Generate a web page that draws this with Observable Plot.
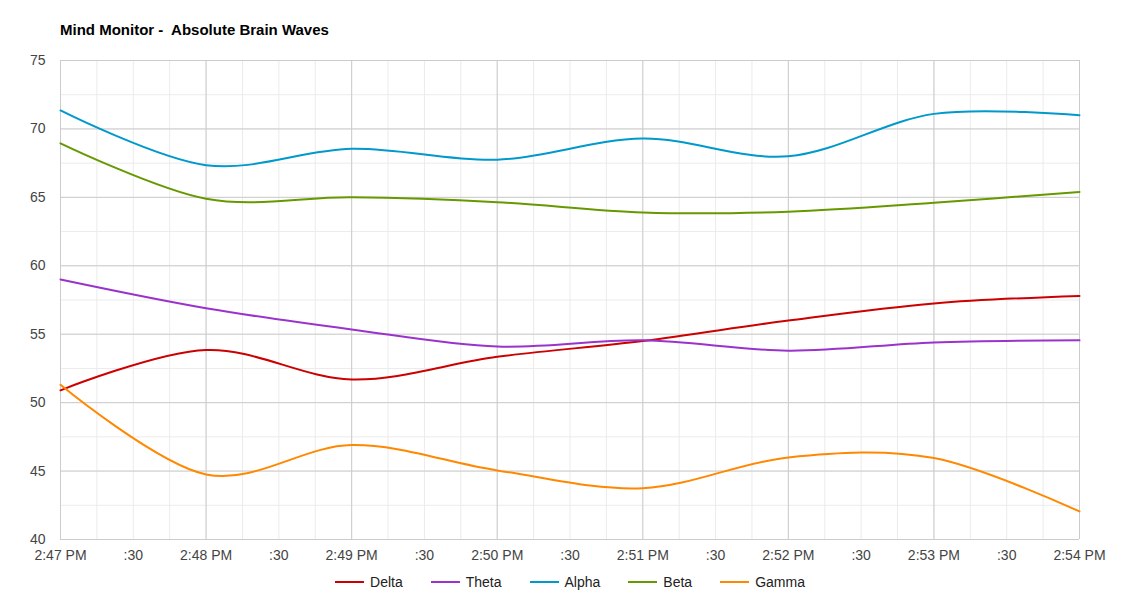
<!DOCTYPE html>
<html>
<head>
<meta charset="utf-8">
<script src="https://cdn.jsdelivr.net/npm/d3@7"></script>
<script src="https://cdn.jsdelivr.net/npm/@observablehq/plot@0.6"></script>
<style>
  html, body { margin: 0; padding: 0; background: #fff; }
  body { width: 1140px; height: 600px; overflow: hidden; font-family: "Liberation Sans", Arial, sans-serif; }
  #title { height: 45px; box-sizing: border-box; padding: 21px 0 0 60px; font-size: 15px; line-height: 18px; font-weight: bold; color: #000; white-space: pre; }
  #legend { display: flex; justify-content: center; align-items: center; height: 26px; margin-left: 0; font-size: 14px; color: #222; }
  .item { display: flex; align-items: center; margin: 0 14px; }
  .sw { width: 29px; height: 2px; margin-right: 6px; }
</style>
</head>
<body>
<div id="title">Mind Monitor -  Absolute Brain Waves</div>
<div id="chart"></div>
<div id="legend"></div>
<script>
const times = ["2:47 PM","2:48 PM","2:49 PM","2:50 PM","2:51 PM","2:52 PM","2:53 PM","2:54 PM"];
const seriesNames = ["Delta","Theta","Alpha","Beta","Gamma"];
const colors = ["#cc0000","#9933cc","#0099cc","#669900","#ff8800"];
const delta = [50.9, 53.85, 51.7, 53.35, 54.5, 56.0, 57.25, 57.8];
const theta = [59.0, 56.9, 55.35, 54.1, 54.55, 53.8, 54.4, 54.55];
const alpha = [71.35, 67.35, 68.55, 67.75, 69.3, 68.0, 71.1, 71.0];
const beta  = [68.95, 64.9, 65.0, 64.65, 63.9, 63.95, 64.6, 65.4];
const gamma = [51.3, 44.75, 46.9, 45.05, 43.75, 46.0, 45.95, 42.05];
const yTicks = [40, 45, 50, 55, 60, 65, 70, 75];

function parseTime(s) {
  const m = s.match(/(\d+):(\d+) (AM|PM)/);
  let h = +m[1] % 12 + (m[3] === "PM" ? 12 : 0);
  return new Date(Date.UTC(2020, 0, 1, h, +m[2]));
}
const xs = times.map(parseTime);
const allSeries = [delta, theta, alpha, beta, gamma];
const data = [];
allSeries.forEach((vals, i) => vals.forEach((v, j) => data.push({series: seriesNames[i], t: xs[j], v})));

const x0 = xs[0], x1 = xs[xs.length - 1];
const minorX = d3.utcSecond.every(15).range(x0, new Date(+x1 + 1));
const majorX = d3.utcMinute.every(1).range(x0, new Date(+x1 + 1));
const labelX = d3.utcSecond.every(30).range(x0, new Date(+x1 + 1));
const minorY = d3.range(40, 75.01, 2.5);
const fmtMin = d3.utcFormat("%-I:%M %p");

const chart = Plot.plot({
  width: 1140,
  height: 524,
  marginLeft: 60,
  marginRight: 61,
  marginTop: 15,
  marginBottom: 30,
  style: { fontFamily: "'Liberation Sans', Arial, sans-serif", fontSize: "14px", color: "#444", background: "#fff" },
  x: { type: "utc", domain: [x0, x1], label: null },
  y: { domain: [40, 75], label: null },
  color: { domain: seriesNames, range: colors },
  marks: [
    Plot.ruleX(minorX, { stroke: "#ebebeb", strokeWidth: 1 }),
    Plot.ruleY(minorY, { stroke: "#ebebeb", strokeWidth: 1 }),
    Plot.ruleX(majorX, { stroke: "#cccccc", strokeWidth: 1 }),
    Plot.ruleY(yTicks, { stroke: "#cccccc", strokeWidth: 1 }),
    Plot.axisX({ ticks: labelX, tickSize: 0, tickPadding: 11, fill: "#444", label: null,
      tickFormat: d => d.getUTCSeconds() === 30 ? ":30" : fmtMin(d) }),
    Plot.axisY({ ticks: yTicks, tickSize: 0, tickPadding: 15, fill: "#444", label: null }),
    Plot.line(data, { x: "t", y: "v", z: "series", stroke: "series", strokeWidth: 2, curve: "cardinal" })
  ]
});
document.getElementById("chart").appendChild(chart);

const legend = document.getElementById("legend");
seriesNames.forEach((n, i) => {
  const it = document.createElement("div");
  it.className = "item";
  it.innerHTML = `<div class="sw" style="background:${colors[i]}"></div><span>${n}</span>`;
  legend.appendChild(it);
});
</script>
</body>
</html>
